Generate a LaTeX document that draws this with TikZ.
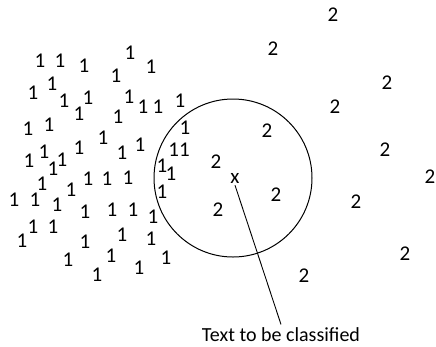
\documentclass[tikz,border=0pt]{standalone}
\usepackage{fontspec}
\setmainfont{Carlito}
\begin{document}
\begin{tikzpicture}[x=1pt,y=-1pt,
		digito/.style={font=\fontsize{21}{21}\selectfont, inner sep=0pt}]
	\useasboundingbox (0,0) rectangle (436,346);
	
	% Clase 1
	\foreach \px/\py [count=\i] in {40/61,60/61,84/66,130/53,151/67,116/76,
			33/93,52/84,64/101,88/98,79/114,129/97,143/107,158/107,180/101,118/117,
			28/129,49/125,103/138,140/145,79/148,
			29/161,44/152,62/160,53/169,122/153,
			42/184,71/190,88/179,107/179,128/178,
			14/200,35/200,57/205,85/212,112/210,133/210,153/217,
			33/227,53/227,22/241,85/242,122/235,151/239,
			68/260,111/256,166/258,97/275,139/268,
			185/128,162/166,171/174,162/192}
		\node[digito] (uno\i) at (\px,\py) {1};
	\node[digito] (unodoble) at (179,150) {11};
	
	% Clase 2
	\foreach \px/\py [count=\i] in {333/15,273/49,387/83,335/107,267/131,385/150,
			430/177,216/162,276/195,218/210,356/202,405/254,304/276}
		\node[digito] (dos\i) at (\px,\py) {2};
	
	% Vecindad
	\node[draw, circle, line width=1pt, minimum size=158pt, inner sep=0pt] (vecindad) at (233,178) {};
	\node[digito, inner sep=2pt] (x) at (235,178) {x};
	
	% Etiqueta
	\node[font=\fontsize{20}{20}\selectfont] (texto) at (281,335) {Text to be classified};
	\draw[line width=0.9pt] (x.south) -- (texto.north);
\end{tikzpicture}
\end{document}
